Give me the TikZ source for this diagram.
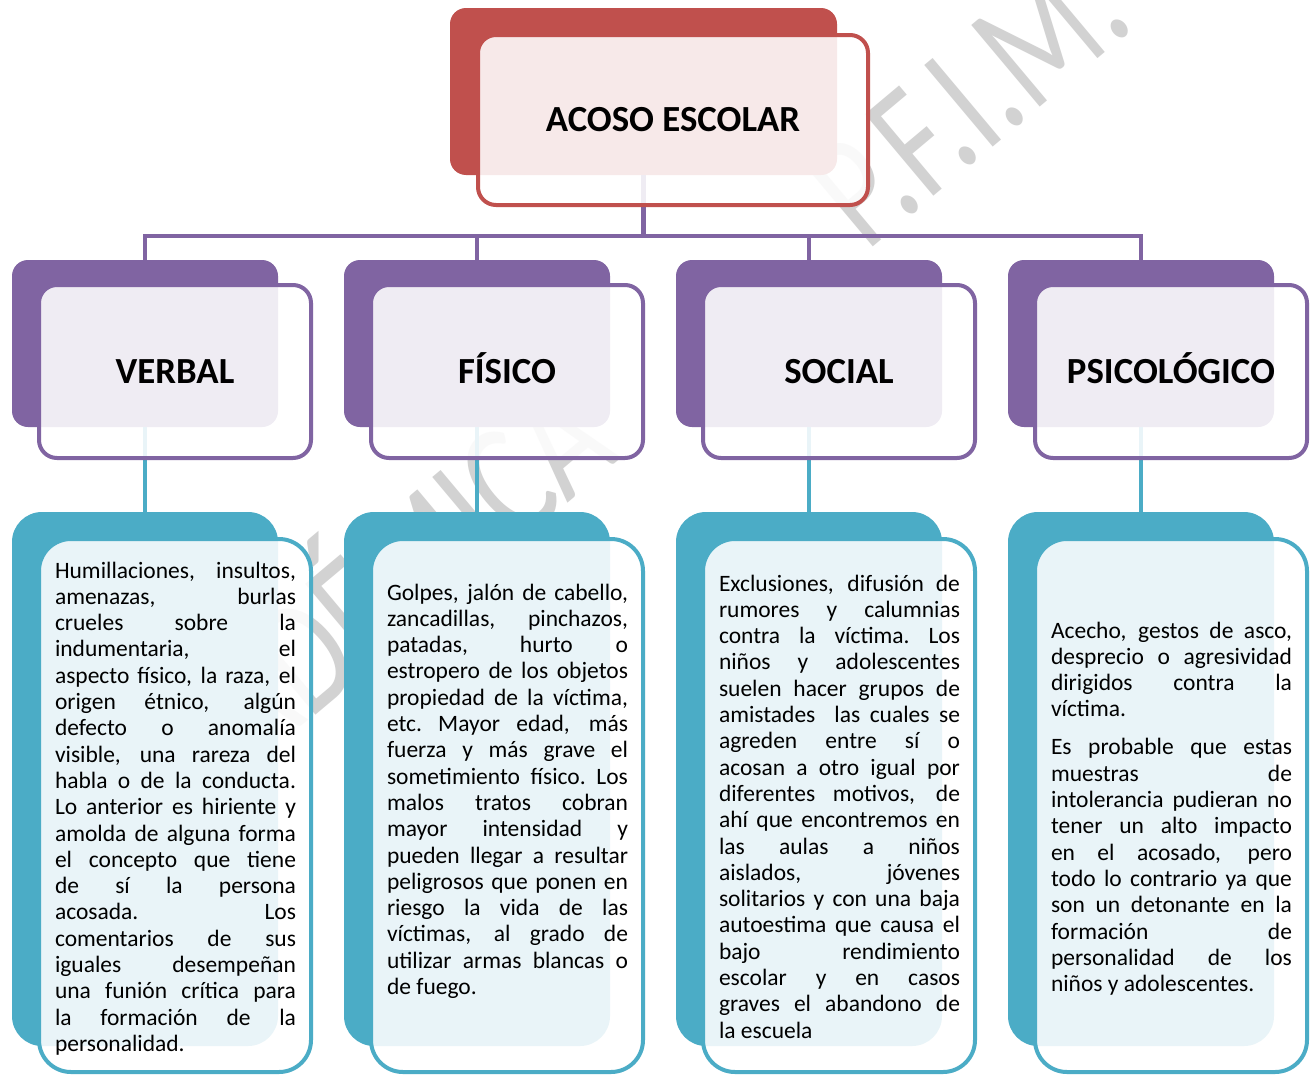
\documentclass[tikz,border=0pt]{standalone}
\usepackage{fontspec}
\setmainfont{Carlito}
\definecolor{acred}{HTML}{C0504D}
\definecolor{acpur}{HTML}{8064A2}
\definecolor{acteal}{HTML}{4BACC6}
\definecolor{acwm}{RGB}{210,210,210}
\newcommand\J[1]{\hbox to\hsize{\spaceskip=0.226em plus 1fil\xspaceskip=0.226em plus 1fil\strut #1}}
\newcommand\Jl[1]{\hbox{\spaceskip=0.226em\xspaceskip=0.226em\strut #1}}
\newcommand\titlefont{\bfseries\fontsize{36.8}{40}\selectfont}
\newcommand\bodyfont{\fontsize{23.5}{26.3}\selectfont}
\tikzset{
  backbox/.style={rectangle, inner sep=0pt, outer sep=0pt, draw=none},
  topback/.style={backbox, rounded corners=16pt, fill=acred, minimum width=387pt, minimum height=167pt},
  topfront/.style={rectangle, rounded corners=18pt, draw=acred, line width=4pt, fill=white, fill opacity=0.88, text opacity=1,
     minimum width=390pt, minimum height=170pt, inner sep=0pt, font=\titlefont, text height=23.7pt, text depth=0pt},
  catback/.style={backbox, rounded corners=16pt, fill=acpur, minimum width=266pt, minimum height=167pt},
  catfront/.style={rectangle, rounded corners=18pt, draw=acpur, line width=4pt, fill=white, fill opacity=0.88, text opacity=1,
     minimum width=272pt, minimum height=173pt, inner sep=0pt, font=\titlefont, text height=23.7pt, text depth=0pt},
  txtback/.style={backbox, rounded corners=30pt, fill=acteal, minimum width=266pt, minimum height=534pt},
  txtfront/.style={rectangle, rounded corners=32pt, draw=acteal, line width=4pt, fill=white, fill opacity=0.88,
     minimum width=272pt, minimum height=533pt, inner sep=0pt},
  body/.style={anchor=north west, inner sep=0pt, outer sep=0pt, text width=241pt, font=\bodyfont},
  purcon/.style={draw=acpur, line width=4.5pt},
  tealcon/.style={draw=acteal, line width=4.5pt},
  wmark/.style={text=acwm, font=\fontsize{166}{166}\selectfont, inner sep=0pt, outer sep=0pt},
}
\begin{document}
\begin{tikzpicture}[x=1pt,y=-1pt]
\useasboundingbox (0,0) rectangle (1314,1076);
\clip (0,0) rectangle (1314,1076);
\fill[white] (0,0) rectangle (1314,1076);
% watermark
\node[wmark, rotate=40, anchor=base west] (wm) at (151,853) {\scalebox{0.74}[1]{ACADÉMICA\hspace{2.6em}P.F.I.M.}};
% back shapes
\node[topback] (topB) at (643.5,91.5) {};
\node[catback] (catB1) at (145,343.5) {};
\node[catback] (catB2) at (477,343.5) {};
\node[catback] (catB3) at (809,343.5) {};
\node[catback] (catB4) at (1141,343.5) {};
\node[txtback] (txtB1) at (145,779) {};
\node[txtback] (txtB2) at (477,779) {};
\node[txtback] (txtB3) at (809,779) {};
\node[txtback] (txtB4) at (1141,779) {};
% connectors
\coordinate (bus) at (643.5,236);
\draw[purcon] (topB.south) -- (bus);
\draw[purcon, line cap=rect] (catB1.north |- bus) -- (catB4.north |- bus);
\foreach \i in {1,2,3,4}{
  \draw[purcon] (catB\i.north |- bus) -- (catB\i.north);
  \draw[tealcon] (catB\i.south) -- (txtB\i.north);
}
% front shapes
\node[topfront] (topF) at (673,120) {ACOSO ESCOLAR};
\node[catfront] (catF1) at (175,371.5) {VERBAL};
\node[catfront] (catF2) at (507,371.5) {FÍSICO};
\node[catfront] (catF3) at (839,371.5) {SOCIAL};
\node[catfront] (catF4) at (1171,371.5) {PSICOLÓGICO};
\node[txtfront] (txtF1) at (175,805.5) {};
\node[txtfront] (txtF2) at (507,805.5) {};
\node[txtfront] (txtF3) at (839,805.5) {};
\node[txtfront] (txtF4) at (1171,805.5) {};
% texts
\node[body] (t1) at (55,559.6) {%
\J{Humillaciones, insultos,}
\J{amenazas, burlas}
\J{crueles sobre la}
\J{indumentaria, el}
\J{aspecto físico, la raza, el}
\J{origen étnico, algún}
\J{defecto o anomalía}
\J{visible, una rareza del}
\J{habla o de la conducta.}
\J{Lo anterior es hiriente y}
\J{amolda de alguna forma}
\J{el concepto que tiene}
\J{de sí la persona}
\J{acosada. Los}
\J{comentarios de sus}
\J{iguales desempeñan}
\J{una funión crítica para}
\J{la formación de la}
\Jl{personalidad.}};
\node[body] (t2) at (387,581.6) {%
\J{Golpes, jalón de cabello,}
\J{zancadillas, pinchazos,}
\J{patadas, hurto o}
\J{estropero de los objetos}
\J{propiedad de la víctima,}
\J{etc. Mayor edad, más}
\J{fuerza y más grave el}
\J{sometimiento físico. Los}
\J{malos tratos cobran}
\J{mayor intensidad y}
\J{pueden llegar a resultar}
\J{peligrosos que ponen en}
\J{riesgo la vida de las}
\J{víctimas, al grado de}
\J{utilizar armas blancas o}
\Jl{de fuego.}};
\node[body] (t3) at (719,572.6) {%
\J{Exclusiones, difusión de}
\J{rumores y calumnias}
\J{contra la víctima. Los}
\J{niños y adolescentes}
\J{suelen hacer grupos de}
\J{amistades \ las cuales se}
\J{agreden entre sí o}
\J{acosan a otro igual por}
\J{diferentes motivos, de}
\J{ahí que encontremos en}
\J{las aulas a niños}
\J{aislados, jóvenes}
\J{solitarios y con una baja}
\J{autoestima que causa el}
\J{bajo rendimiento}
\J{escolar y en casos}
\J{graves el abandono de}
\Jl{la escuela}};
\node[body] (t4) at (1051,619.6) {%
\J{Acecho, gestos de asco,}
\J{desprecio o agresividad}
\J{dirigidos contra la}
\Jl{víctima.}
\vskip 11.7pt
\J{Es probable que estas}
\J{muestras de}
\J{intolerancia pudieran no}
\J{tener un alto impacto}
\J{en el acosado, pero}
\J{todo lo contrario ya que}
\J{son un detonante en la}
\J{formación de}
\J{personalidad de los}
\Jl{niños y adolescentes.}};
\end{tikzpicture}
\end{document}
